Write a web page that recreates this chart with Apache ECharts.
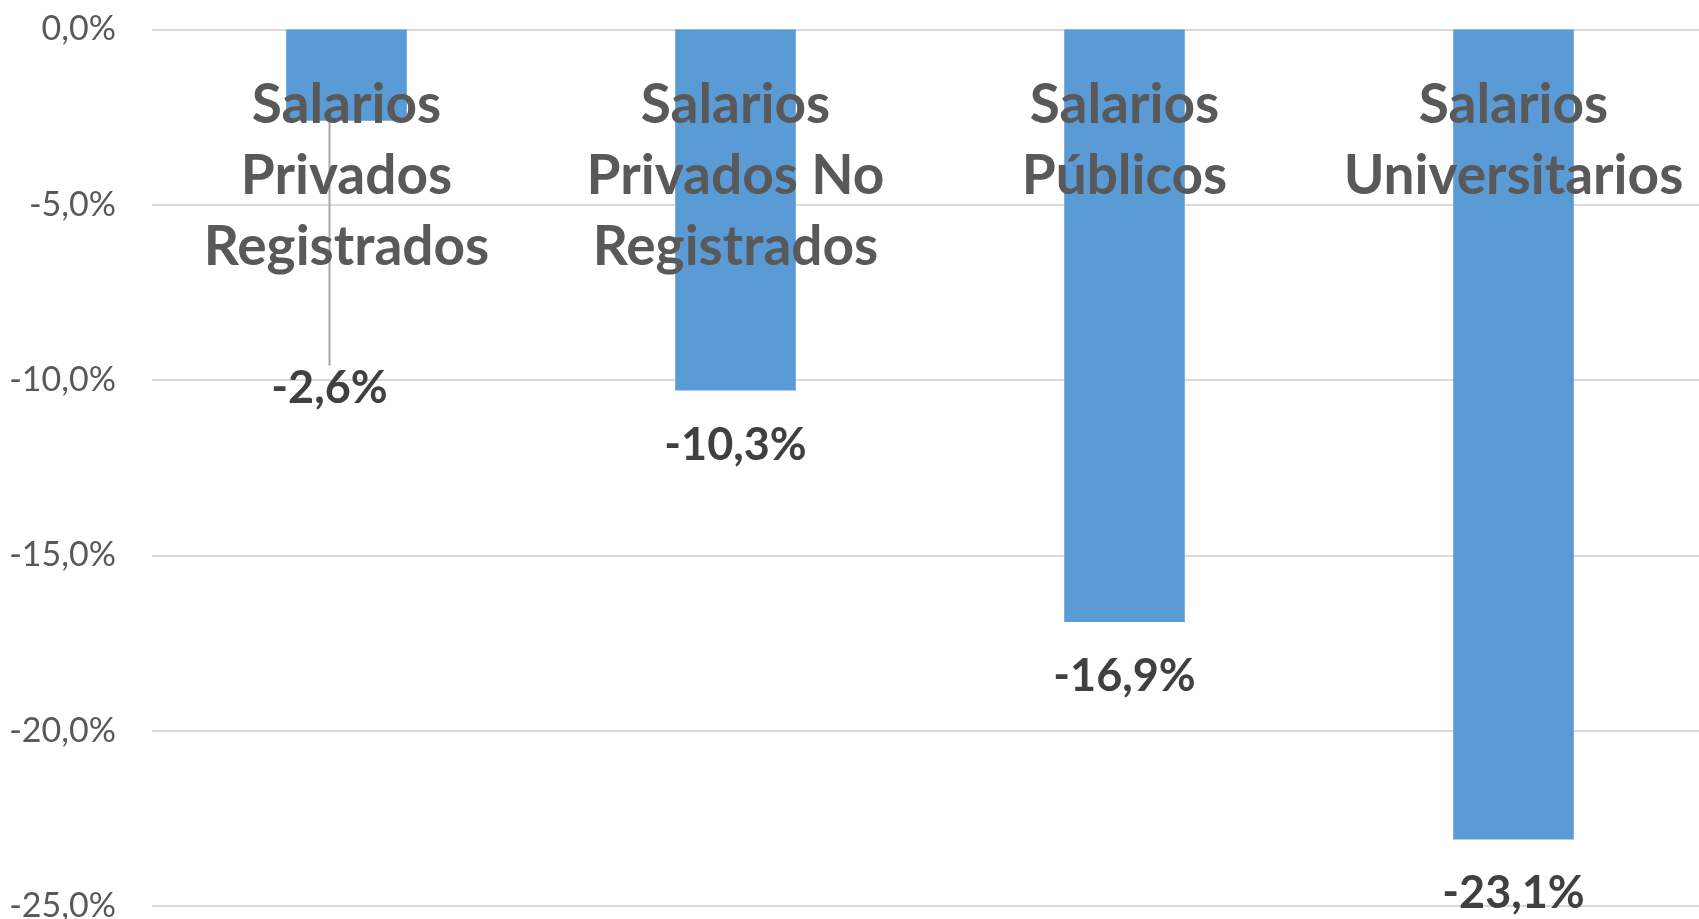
<!DOCTYPE html>
<html>
<head>
<meta charset="utf-8">
<script src="https://cdn.jsdelivr.net/npm/echarts@6/dist/echarts.min.js"></script>
<style>
  html, body { margin: 0; padding: 0; background: #fff; }
  #chart { width: 1699px; height: 919px; }
</style>
</head>
<body>
<div id="chart"></div>
<script>
// categorías y valores (variación %)
const categories = [
  "Salarios\nPrivados\nRegistrados",
  "Salarios\nPrivados No\nRegistrados",
  "Salarios\nPúblicos",
  "Salarios\nUniversitarios",
];
const values = [-2.6, -10.3, -16.9, -23.1];
const yTicks = { min: -25, max: 0, interval: 5 };

const fmt = (v) => v.toFixed(1).replace(".", ",") + "%";

const chart = echarts.init(document.getElementById("chart"));
chart.setOption({
  backgroundColor: "#fff",
  animation: false,
  grid: {
    left: 152,
    right: -9,
    top: 29.5,
    bottom: 13,
    outerBoundsMode: "none",
  },
  xAxis: {
    type: "category",
    position: "top",
    data: categories,
    z: 10,
    axisLine: { show: false },
    axisTick: { show: false },
    axisLabel: {
      inside: true,
      margin: 40,
      interval: 0,
      color: "#595959",
      fontFamily: "Lato",
      fontWeight: "bold",
      fontSize: 55,
      lineHeight: 71,
    },
  },
  yAxis: {
    type: "value",
    min: yTicks.min,
    max: yTicks.max,
    interval: yTicks.interval,
    axisLine: { show: false },
    axisTick: { show: false },
    splitLine: { lineStyle: { color: "#d9d9d9", width: 2 } },
    axisLabel: {
      margin: 36,
      color: "#595959",
      fontFamily: "Lato",
      fontSize: 34,
      formatter: (v) => fmt(v),
    },
  },
  series: [
    {
      type: "bar",
      // solo la primera etiqueta lleva línea guía
      data: values.map((v, i) =>
        i === 0 ? { value: v, labelLine: { show: true } } : v
      ),
      barWidth: "31%",
      itemStyle: { color: "#5b9bd5" },
      label: {
        show: true,
        position: "bottom",
        distance: 32,
        color: "#404040",
        fontFamily: "Lato",
        fontWeight: "bold",
        fontSize: 45,
        formatter: (p) => fmt(p.value),
      },
      labelLine: { show: false, lineStyle: { color: "#a6a6a6", width: 2 } },
      labelLayout: (params) => {
        if (params.dataIndex === 0) return { dx: -17, dy: 213 };
        return {};
      },
    },
  ],
});
</script>
</body>
</html>
